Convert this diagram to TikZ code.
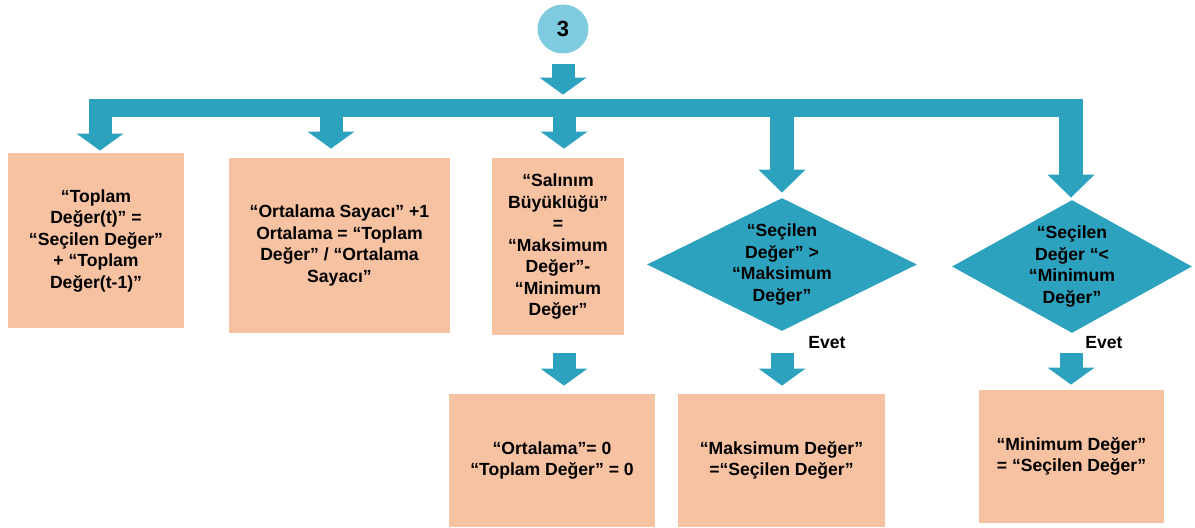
\documentclass[tikz,border=0pt]{standalone}
\usepackage{fontspec}
\setmainfont{Liberation Sans}
\usetikzlibrary{arrows.meta,shapes.geometric}
\definecolor{flowblue}{HTML}{2DA2BF}
\definecolor{boxfill}{HTML}{F7C2A2}
\definecolor{circfill}{HTML}{7FCCE0}
\begin{document}
\begin{tikzpicture}[x=0.5pt,y=-0.5pt,
  txtfont/.style={font=\bfseries\fontsize{8.8}{10.75}\selectfont},
  box/.style={txtfont, fill=boxfill, inner sep=0pt, align=center, text=black},
  dia/.style={diamond, fill=flowblue, inner sep=0pt},
  txt/.style={txtfont, align=center, inner sep=0pt, text=black},
  blk/.style={flowblue, line width=11.5pt,
    -{Triangle[width=23.5pt,length=8.5pt,line width=0pt]}},
  blklong/.style={flowblue, line width=12pt,
    -{Triangle[width=23.5pt,length=11.5pt,line width=0pt]}},
]
\useasboundingbox (0,0) rectangle (1195,528);

% start circle
\node[ellipse, fill=circfill, minimum width=25.5pt, minimum height=24.5pt, inner sep=0pt,
  font=\bfseries\fontsize{11}{12}\selectfont] (c) at (563,29) {3};

% horizontal bar
\node[fill=flowblue, minimum width=497pt, minimum height=9pt, inner sep=0pt] (bar) at (586,108) {};

% first row
\node[box, minimum width=88pt, minimum height=87.5pt] (box1) at (96,240.5)
  {“Toplam\\Değer(t)” =\\“Seçilen Değer”\\+ “Toplam\\Değer(t-1)”};
\node[box, minimum width=110.5pt, minimum height=87.5pt] (box2) at (339.5,245.5)
  {“Ortalama Sayacı” +1\\Ortalama = “Toplam\\Değer” / “Ortalama\\Sayacı”};
\node[box, minimum width=66pt, minimum height=88.5pt] (box3) at (558,246.5)
  {“Salınım\\Büyüklüğü”\\=\\“Maksimum\\Değer”-\\“Minimum\\Değer”};
\node[dia, minimum width=135pt, minimum height=66.5pt,
  label={[txt]center:{“Seçilen\\Değer” >\\“Maksimum\\Değer”}}] (d1) at (782,264.5) {};
\node[dia, minimum width=120pt, minimum height=66.5pt,
  label={[txt]center:{“Seçilen\\Değer “<\\“Minimum\\Değer”}}] (d2) at (1072,266.5) {};

\node[txt] (e1) at (827,343) {Evet};
\node[txt] (e2) at (1104,343) {Evet};

% second row
\node[box, minimum width=103pt, minimum height=66.5pt] (box4) at (552,460.5)
  {“Ortalama”= 0\\“Toplam Değer” = 0};
\node[box, minimum width=103.5pt, minimum height=66.5pt] (box5) at (781.5,460.5)
  {“Maksimum Değer”\\=“Seçilen Değer”};
\node[box, minimum width=92.5pt, minimum height=66.5pt] (box6) at (1071.5,456.5)
  {“Minimum Değer”\\= “Seçilen Değer”};

% arrow positions on the bar
\coordinate (b1) at (100,99);
\coordinate (b2) at (331,99);
\coordinate (b3) at (564,99);
\coordinate (b4) at (782,99);
\coordinate (b5) at (1071,99);

% connectors
\draw[blk, shorten <=5pt, shorten >=2pt] (c.south) -- (c.south |- bar.north);
\draw[blk, shorten >=1pt] (b1) -- (b1 |- box1.north);
\draw[blk, shorten >=4.5pt] (b2) -- (b2 |- box2.north);
\draw[blk, shorten >=4.5pt] (b3) -- (b3 |- box3.north);
\draw[blklong, shorten >=2.5pt] (b4) -- (d1.north);
\draw[blklong, shorten >=1pt] (b5) -- (b5 |- d2.north);

\draw[blk, shorten <=9pt, shorten >=4pt] (box3.south -| b3) -- (box4.north -| b3);
\draw[blk, shorten <=11pt, shorten >=4pt] (d1.south) -- (box5.north -| d1.south);
\draw[blk, shorten <=10pt, shorten >=2.5pt] (d2.south -| b5) -- (box6.north -| b5);
\end{tikzpicture}
\end{document}
